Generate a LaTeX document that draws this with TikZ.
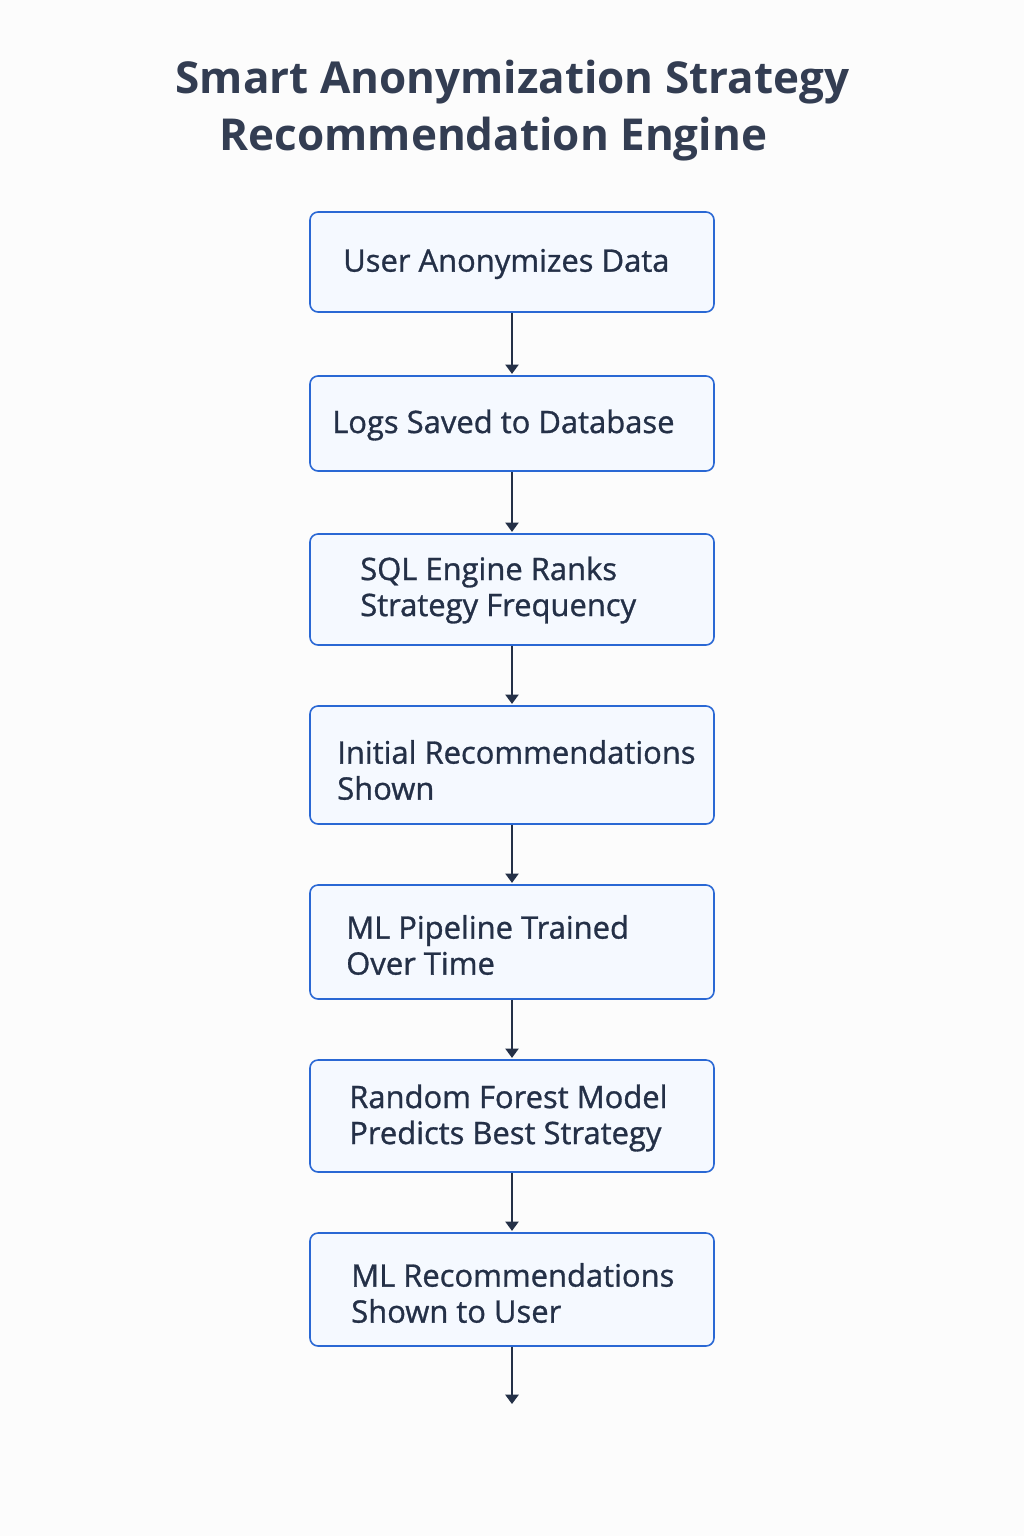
\documentclass[tikz,border=0pt]{standalone}
\usepackage{fontspec}
\setmainfont{Open Sans}
\newfontfamily\boxfont[FakeBold=1.0]{Open Sans}
\usetikzlibrary{arrows.meta}
\definecolor{bgc}{HTML}{FCFCFC}
\definecolor{boxfill}{HTML}{F5F9FF}
\definecolor{boxline}{HTML}{2A68D4}
\definecolor{txt}{HTML}{243047}
\definecolor{titlec}{HTML}{333D52}
\tikzset{
  stepbox/.style={draw=boxline, fill=boxfill, line width=1.2pt, rounded corners=6pt,
    minimum width=303pt, inner sep=0pt},
  lbl/.style={anchor=west, align=left, text=txt, font=\boxfont\fontsize{23.2pt}{27pt}\selectfont, inner sep=0pt},
  ttl/.style={text=titlec, font=\fontsize{33pt}{40pt}\selectfont\bfseries, inner sep=0pt},
  flow/.style={draw=txt, line width=1.1pt, -{Triangle[width=10pt,length=7pt]}, shorten >=1pt}
}
\begin{document}
\begin{tikzpicture}[x=0.75pt,y=-0.75pt]
\fill[bgc] (0,0) rectangle (1024,1536);
\useasboundingbox (0,0) rectangle (1024,1536);
\node[ttl] (t1) at (512.5,82) {Smart Anonymization Strategy};
\node[ttl] (t2) at (493.5,139) {Recommendation Engine};

\node[stepbox, minimum height=75pt] (b1) at (512,262) {};
\node[stepbox, minimum height=71.25pt] (b2) at (512,423.5) {};
\node[stepbox, minimum height=83.25pt] (b3) at (512,589.5) {};
\node[stepbox, minimum height=88.5pt] (b4) at (512,765) {};
\node[stepbox, minimum height=85.5pt] (b5) at (512,942) {};
\node[stepbox, minimum height=84pt] (b6) at (512,1116) {};
\node[stepbox, minimum height=84.75pt] (b7) at (512,1289.5) {};

\node[lbl] (l1) at (343,264) {User Anonymizes Data};
\node[lbl] (l2) at (332,425) {Logs Saved to Database};
\node[lbl] (l3) at (360,590) {SQL Engine Ranks\\Strategy Frequency};
\node[lbl] (l4) at (337,770) {Initial Recommendations\\Shown};
\node[lbl] (l5) at (346,945) {ML Pipeline Trained\\Over Time};
\node[lbl] (l6) at (349,1118) {Random Forest Model\\Predicts Best Strategy};
\node[lbl] (l7) at (351,1293) {ML Recommendations\\Shown to User};

\coordinate (end) at (512,1404);
\draw[flow] (b1.south) -- (b2.north);
\draw[flow] (b2.south) -- (b3.north);
\draw[flow] (b3.south) -- (b4.north);
\draw[flow] (b4.south) -- (b5.north);
\draw[flow] (b5.south) -- (b6.north);
\draw[flow] (b6.south) -- (b7.north);
\draw[flow, shorten >=0pt] (b7.south) -- (end);
\end{tikzpicture}
\end{document}
